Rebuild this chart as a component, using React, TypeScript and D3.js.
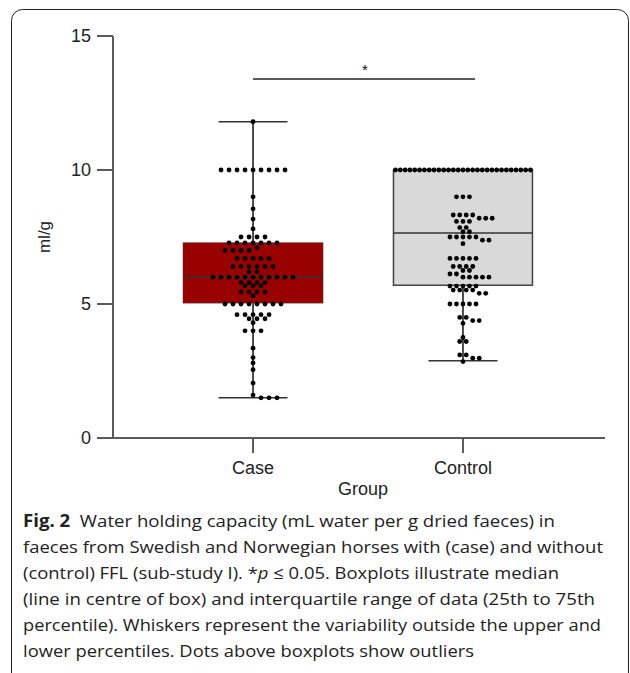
import React from 'react';
import * as d3 from 'd3';

// groups on the x axis
const groups = ['Case', 'Control'];

const caseValues = [
  11.8,
  10, 10, 10, 10, 10, 10, 10, 10, 10,
  9.0, 8.55, 8.17, 7.8,
  7.5, 7.5, 7.5, 7.5,
  7.28, 7.28, 7.28, 7.28, 7.28, 7.28, 7.28,
  7.1,
  7.0, 7.0, 7.0, 7.0,
  6.7, 6.7, 6.7, 6.7, 6.7,
  6.4, 6.4, 6.4, 6.4, 6.4, 6.4,
  6.2, 6.2,
  6.0, 6.0, 6.0, 6.0, 6.0, 6.0, 6.0, 6.0, 6.0, 6.0, 6.0,
  5.8, 5.8, 5.8, 5.8,
  5.68, 5.68, 5.68,
  5.45, 5.45, 5.45, 5.45,
  5.3,
  5.0, 5.0, 5.0, 5.0, 5.0, 5.0, 5.0, 5.0,
  4.6, 4.6, 4.6, 4.6, 4.6,
  4.45, 4.45, 4.45,
  4.3,
  4.0, 4.0, 4.0,
  3.35, 3.0, 2.8, 2.55, 2.05, 1.6,
  1.5, 1.5, 1.5,
];

const controlValues = [
  10, 10, 10, 10, 10, 10, 10, 10, 10, 10, 10, 10, 10, 10, 10,
  10, 10, 10, 10, 10, 10, 10, 10, 10, 10, 10, 10, 10, 10,
  9.0, 9.0, 9.0,
  8.32, 8.32, 8.32, 8.32,
  8.2, 8.2, 8.2,
  8.08, 8.08, 8.08,
  7.85, 7.85,
  7.7, 7.7,
  7.5, 7.5, 7.5, 7.5, 7.5,
  7.38, 7.38,
  7.25,
  6.7, 6.7, 6.7, 6.7, 6.7,
  6.4, 6.4, 6.4, 6.4,
  6.25, 6.25,
  6.12, 6.12,
  6.0, 6.0, 6.0, 6.0, 6.0,
  5.67, 5.67, 5.67, 5.67, 5.67,
  5.52, 5.52, 5.52, 5.52,
  5.4, 5.4,
  5.0, 5.0, 5.0, 5.0, 5.0,
  4.5, 4.5,
  4.38, 4.38,
  4.28,
  3.75,
  3.6, 3.6,
  3.1, 3.1,
  2.98, 2.98,
  2.85,
];

// box summary as drawn in the figure
const boxQ1 = [5.05, 5.7];
const boxMedian = [6.0, 7.65];
const boxQ3 = [7.27, 10.0];
const whiskerLow = [1.5, 2.88];
const whiskerHigh = [11.8, 10.0];
const boxFill = ['#990000', '#d9d9d9'];

const yTicks = [0, 5, 10, 15];

const captionLines = [
  [{ t: 'Fig. 2', b: true }, { t: '  Water holding capacity (mL water per g dried faeces) in' }],
  [{ t: 'faeces from Swedish and Norwegian horses with (case) and without' }],
  [{ t: '(control) FFL (sub-study I). *' }, { t: 'p', i: true }, { t: ' \u2264 0.05. Boxplots illustrate median' }],
  [{ t: '(line in centre of box) and interquartile range of data (25th to 75th' }],
  [{ t: 'percentile). Whiskers represent the variability outside the upper and' }],
  [{ t: 'lower percentiles. Dots above boxplots show outliers' }],
];
const captionWidths = [532, 580, 536, 572, 578, 451];

const W = 630;
const H = 673;
const axisColor = '#5a5a5a';
const axisFont = '"Liberation Sans", Arial, sans-serif';

// rows of equal values, nudged sideways (half steps) until they clear the rows above
function swarm(values: number[], y: d3.ScaleLinear<number, number>, step: number, maxW: number, minDist: number) {
  const rows = d3.groups(values, v => v).sort((a, b) => b[0] - a[0]);
  const placed: { dx: number; y: number }[] = [];
  rows.forEach(([v, arr]) => {
    const n = arr.length;
    const s = n > 1 ? Math.min(step, maxW / (n - 1)) : 0;
    const yy = y(v);
    const base = arr.map((_, i) => (i - (n - 1) / 2) * s);
    const shifts = [0];
    for (let k = 1; k < 8; k++) shifts.push(k * step / 2, -k * step / 2);
    let chosen = 0;
    for (const sh of shifts) {
      const ok = base.every(b =>
        placed.every(p => Math.hypot(p.dx - (b + sh), p.y - yy) >= minDist)
      );
      if (ok) { chosen = sh; break; }
    }
    base.forEach(b => placed.push({ dx: b + chosen, y: yy }));
  });
  return placed;
}

const App = () => {
  const margin = { top: 36, left: 113, right: 25, bottom: 235 };
  const y = d3.scaleLinear().domain([0, 15]).range([H - margin.bottom, margin.top]);
  const x = d3.scalePoint<string>().domain(groups).range([margin.left, W - margin.right - 2]).padding(0.667);

  const boxHalf = 69.5;
  const capHalf = 34.5;
  const r = 2.4;
  const allValues = [caseValues, controlValues];

  const x0 = margin.left;
  const y0 = y(0);

  return (
    <svg width={W} height={H} style={{ position: 'absolute', left: 0, top: 0 }}>
      <rect x={0} y={0} width={W} height={H} fill="#fff" />
      <rect x={11.5} y={9.5} width={617} height={680} rx={11} fill="none" stroke="#222" strokeWidth={1} />

      {/* boxes, whiskers, medians */}
      {groups.map((g, i) => {
        const cx = x(g) as number;
        return (
          <g key={g}>
            <line x1={cx} x2={cx} y1={y(whiskerHigh[i])} y2={y(whiskerLow[i])} stroke="#222" strokeWidth={1.6} />
            <rect
              x={cx - boxHalf}
              y={y(boxQ3[i])}
              width={boxHalf * 2}
              height={y(boxQ1[i]) - y(boxQ3[i])}
              fill={boxFill[i]}
              stroke={i === 0 ? '#7a1010' : '#444'}
              strokeWidth={1.5}
            />
            <line x1={cx - boxHalf} x2={cx + boxHalf} y1={y(boxMedian[i])} y2={y(boxMedian[i])} stroke="#333" strokeWidth={1.5} />
            <line x1={cx - capHalf} x2={cx + capHalf} y1={y(whiskerHigh[i])} y2={y(whiskerHigh[i])} stroke="#333" strokeWidth={1.6} />
            <line x1={cx - capHalf} x2={cx + capHalf} y1={y(whiskerLow[i])} y2={y(whiskerLow[i])} stroke="#333" strokeWidth={1.6} />
          </g>
        );
      })}

      {/* dots */}
      {groups.map((g, i) => {
        const cx = x(g) as number;
        const pts = swarm(allValues[i], y, i === 0 ? 8 : 6.5, boxHalf * 2 - 4, 2 * r + 0.2);
        return (
          <g key={'d' + g}>
            {pts.map((p, j) => (
              <circle key={j} cx={cx + p.dx} cy={p.y} r={r} fill="#000" />
            ))}
          </g>
        );
      })}

      {/* y axis */}
      <line x1={x0} x2={x0} y1={y(15)} y2={y0} stroke={axisColor} strokeWidth={2} />
      {yTicks.map(t => (
        <g key={t}>
          <line x1={x0 - 16} x2={x0} y1={y(t)} y2={y(t)} stroke={axisColor} strokeWidth={2} />
          <text x={x0 - 22} y={y(t)} dy="0.36em" textAnchor="end" fontFamily={axisFont} fontSize={18} fill="#222">
            {t}
          </text>
        </g>
      ))}
      <text
        transform={`translate(50, ${y(7.5)}) rotate(-90)`}
        textAnchor="middle"
        fontFamily={axisFont}
        fontSize={17}
        fill="#222"
      >
        ml/g
      </text>

      {/* x axis */}
      <line x1={x0 - 16} x2={W - margin.right} y1={y0} y2={y0} stroke={axisColor} strokeWidth={2} />
      {groups.map(g => (
        <g key={'t' + g}>
          <line x1={x(g) as number} x2={x(g) as number} y1={y0} y2={y0 + 15} stroke={axisColor} strokeWidth={2} />
          <text x={x(g) as number} y={y0 + 36} textAnchor="middle" fontFamily={axisFont} fontSize={18} fill="#222">
            {g}
          </text>
        </g>
      ))}
      <text x={363} y={y0 + 57} textAnchor="middle" fontFamily={axisFont} fontSize={18} fill="#222">
        Group
      </text>

      {/* significance bar */}
      <line x1={x('Case') as number} x2={475} y1={79} y2={79} stroke={axisColor} strokeWidth={2} />
      <text x={365} y={75} textAnchor="middle" fontFamily={axisFont} fontSize={15} fill="#111">*</text>

      {/* caption */}
      {captionLines.map((line, li) => (
        <text
          key={li}
          x={23}
          y={527 + li * 26}
          fontFamily='"Open Sans", "Noto Sans", sans-serif'
          fontSize={17}
          fill="#222"
          textLength={captionWidths[li]}
          lengthAdjust="spacingAndGlyphs"
          style={{ whiteSpace: 'pre' }}
        >
          {line.map((seg: any, si) => (
            <tspan key={si} fontWeight={seg.b ? 700 : 400} fontStyle={seg.i ? 'italic' : 'normal'}>
              {seg.t}
            </tspan>
          ))}
        </text>
      ))}
    </svg>
  );
};

export default App;
